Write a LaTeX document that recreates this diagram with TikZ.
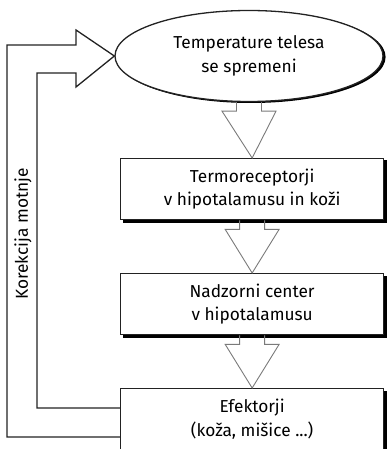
\documentclass[tikz,border=0pt]{standalone}
\usepackage{fontspec}
\setmainfont{Fira Sans}
\usetikzlibrary{shapes.geometric,calc,backgrounds}
\definecolor{linec}{HTML}{222222}
\definecolor{arrowc}{HTML}{7A7A7A}
\newcommand\hollowdown[2]{%
  \draw[harrow] ($(#1)+(-12.5,0)$) -- ++(0,9) -- ++(-14.5,0) -- (#2)
    -- ($(#1)+(27,9)$) -- ++(-14.5,0) -- ++(0,-9);}
\begin{document}
\begin{tikzpicture}[x=1pt,y=-1pt,
  txt/.style={font=\fontsize{17.3}{23.5}\selectfont, align=center, text=black},
  box/.style={txt, draw=linec, line width=1.3pt, fill=white, minimum width=263pt,
    minimum height=61pt, inner sep=0pt, anchor=north west},
  oval/.style={txt, ellipse, draw=linec, line width=1.3pt, fill=white,
    minimum width=268pt, minimum height=91pt, inner sep=0pt},
  shadowc/.style={fill=black},
  harrow/.style={draw=arrowc, line width=0.9pt, line join=miter},
  fb/.style={draw=linec, line width=1.3pt, line join=miter}]
\useasboundingbox (0,0) rectangle (386,449);
\clip (0,0) rectangle (386,449);
\node[oval] (e) at (249,56) {Temperature telesa\\se spremeni};
\node[box] (b1) at (120,158) {Termoreceptorji\\v hipotalamusu in koži};
\node[box] (b2) at (120,273) {Nadzorni center\\v hipotalamusu};
\node[box] (b3) at (120,388) {Efektorji\\(koža, mišice ...)};
\begin{scope}[on background layer]
  \fill[shadowc] ($(b1.north west)+(2.5,2.5)$) rectangle ($(b1.south east)+(2.5,2.5)$);
  \fill[shadowc] ($(b2.north west)+(2.5,2.5)$) rectangle ($(b2.south east)+(2.5,2.5)$);
  \fill[shadowc] ($(b3.north west)+(2.5,2.5)$) rectangle ($(b3.south east)+(2.5,2.5)$);
  \fill[shadowc] ($(e.center)+(2,1)$) ellipse [x radius=134.6, y radius=46];
\end{scope}
\hollowdown{e.south}{b1.north}
\hollowdown{b1.south}{b2.north}
\hollowdown{b2.south}{b3.north}
\coordinate (f1) at ($(b3.north west)+(0,49)$);
\coordinate (f2) at ($(b3.north west)+(0,20)$);
\draw[fb] (f1) -- (7,437) -- (7,45) -- (76,45) -- (76,30) -- (e.west)
  -- (76,87) -- (76,73) -- (37,73) -- (37,408) -- (f2);
\node[txt, rotate=90] (lbl) at (23,234) {Korekcija motnje};
\end{tikzpicture}
\end{document}
